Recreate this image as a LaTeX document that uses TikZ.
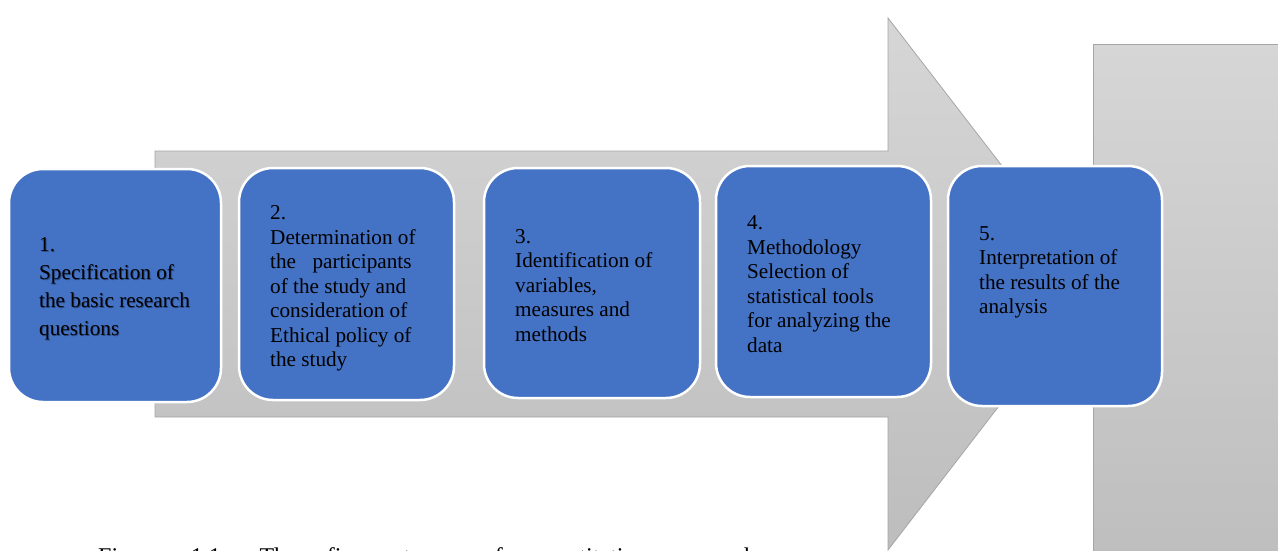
\documentclass[tikz,border=0pt]{standalone}
\usepackage{fontspec}
\setmainfont{Liberation Serif}
\definecolor{stageblue}{HTML}{4472C4}
\definecolor{arrowedge}{HTML}{A6A6A6}
\definecolor{graytop}{HTML}{D6D6D6}
\definecolor{graybot}{HTML}{BDBDBD}
\definecolor{shadowtxt}{HTML}{2A4A85}
\begin{document}
\begin{tikzpicture}[x=1pt,y=-1pt,
  stage/.style={draw=white, line width=2.5pt, fill=stageblue, rounded corners=34pt, inner sep=0pt, outer sep=0pt},
  stagetext/.style={anchor=north west, inner sep=0pt, align=left, text=black, font=\fontsize{21.2pt}{24.5pt}\selectfont},
  firsttext/.style={stagetext, font=\fontsize{21.2pt}{28pt}\selectfont},
  grayshape/.style={draw=arrowedge, line width=0.8pt, top color=graytop, bottom color=graybot},
  ]
\useasboundingbox (0,0) rectangle (1278,550);
\clip (0,0) rectangle (1278,550);
\fill[white] (0,0) rectangle (1278,550);
% right gray block
\draw[grayshape] (1093,44) rectangle (1300,580);
% big arrow
\draw[grayshape] (155,151) -- (888,151) -- (888,18) -- (1093,284) -- (888,550) -- (888,417) -- (155,417) -- cycle;
% stage boxes
\node[stage, minimum width=212pt, minimum height=233pt] (b1) at (115,285.5) {};
\node[stage, minimum width=215pt, minimum height=232pt] (b2) at (346.5,284) {};
\node[stage, minimum width=216pt, minimum height=230pt] (b3) at (592,283) {};
\node[stage, minimum width=215pt, minimum height=231pt] (b4) at (823.5,281.5) {};
\node[stage, minimum width=214pt, minimum height=240pt] (b5) at (1055,286) {};
% texts
\node[firsttext, text=shadowtxt] (t1s) at (39.9,238.4) {1.\\Specification of\\the basic research\\questions};
\node[firsttext] (t1) at (39,237.5) {1.\\Specification of\\the basic research\\questions};
\node[stagetext] (t2) at (270,205.7) {2.\\Determination of\\the\hspace{16.5pt}participants\\of the study and\\consideration of\\Ethical policy of\\the study};
\node[stagetext] (t3) at (515,229.2) {3.\\Identification of\\variables,\\measures and\\methods};
\node[stagetext] (t4) at (747,215.7) {4.\\Methodology\\Selection of\\statistical tools\\for analyzing the\\data};
\node[stagetext] (t5) at (979,226.2) {5.\\Interpretation of\\the results of the\\analysis};
% caption (cut off at the bottom edge)
\node[anchor=base west, inner sep=0pt, font=\fontsize{24pt}{28pt}\selectfont] (cap) at (98,564) {\spaceskip=30pt Figure 1.1: The five stages of quantitative research};
\end{tikzpicture}
\end{document}
